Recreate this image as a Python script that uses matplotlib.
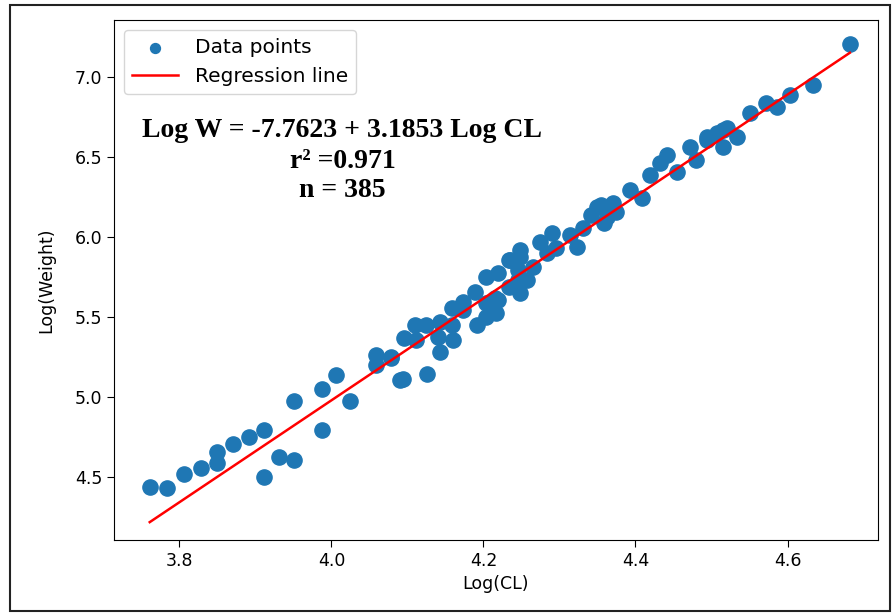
import numpy as np
import matplotlib
matplotlib.use("Agg")
import matplotlib.pyplot as plt
from matplotlib.patches import Rectangle

# values (log carapace length vs log weight)
log_cl = [3.761, 3.784, 3.806, 3.828, 3.849, 3.849, 3.871, 3.892, 3.911, 3.911,
          3.931, 3.951, 3.951, 3.987, 3.987, 4.006, 4.024, 4.058, 4.058, 4.078,
          4.079, 4.090, 4.094, 4.095, 4.110, 4.111, 4.125, 4.126, 4.140, 4.143,
          4.143, 4.158, 4.158, 4.160, 4.173, 4.173, 4.189, 4.191, 4.204, 4.204,
          4.204, 4.215, 4.217, 4.219, 4.219, 4.233, 4.233, 4.235, 4.244, 4.246,
          4.246, 4.248, 4.248, 4.248, 4.257, 4.265, 4.274, 4.283, 4.290, 4.296,
          4.314, 4.323, 4.331, 4.342, 4.349, 4.355, 4.358, 4.362, 4.371, 4.375,
          4.393, 4.408, 4.419, 4.432, 4.441, 4.454, 4.472, 4.480, 4.494, 4.494,
          4.507, 4.515, 4.515, 4.520, 4.533, 4.551, 4.572, 4.586, 4.603, 4.634,
          4.682]
log_w = [4.439, 4.429, 4.519, 4.558, 4.654, 4.590, 4.704, 4.748, 4.794, 4.502,
         4.625, 4.606, 4.975, 5.048, 4.794, 5.136, 4.975, 5.262, 5.200, 5.248,
         5.242, 5.106, 5.110, 5.367, 5.450, 5.356, 5.450, 5.144, 5.373, 5.470,
         5.283, 5.450, 5.554, 5.356, 5.544, 5.596, 5.658, 5.450, 5.752, 5.586,
         5.502, 5.617, 5.523, 5.773, 5.606, 5.856, 5.689, 5.856, 5.689, 5.731,
         5.794, 5.877, 5.648, 5.919, 5.731, 5.814, 5.971, 5.898, 6.023, 5.929,
         6.013, 5.940, 6.054, 6.138, 6.189, 6.200, 6.086, 6.127, 6.211, 6.158,
         6.294, 6.242, 6.388, 6.461, 6.513, 6.408, 6.564, 6.481, 6.627, 6.606,
         6.648, 6.669, 6.564, 6.679, 6.627, 6.773, 6.836, 6.814, 6.888, 6.950,
         7.206]

intercept = -7.7623
slope = 3.1853
eq_lines = ["Log W = -7.7623 + 3.1853 Log CL", "r\u00b2 =0.971", "n = 385"]

fig = plt.figure(figsize=(8.94, 6.14), dpi=100)
ax = fig.add_axes([114 / 894, 74 / 614, 764 / 894, 520 / 614])

# outer frame around the whole picture
fig.patches.append(Rectangle((10 / 894, 3 / 614), 880 / 894, 606 / 614,
                             transform=fig.transFigure, fill=False,
                             edgecolor="#222222", linewidth=1.5))

x = np.array(log_cl)
ax.scatter(x, log_w, s=120, color="#1f77b4", label="Data points", zorder=2)
xs = np.array([x.min(), x.max()])
ax.plot(xs, intercept + slope * xs, color="red", linewidth=1.8,
        label="Regression line", zorder=3)

ax.set_xlim(3.714, 4.719)
ax.set_ylim(4.106, 7.356)
ax.set_xticks([3.8, 4.0, 4.2, 4.4, 4.6])
ax.set_yticks([4.5, 5.0, 5.5, 6.0, 6.5, 7.0])
ax.tick_params(labelsize=12.5, length=5)
ax.set_xlabel("Log(CL)", fontsize=12.5)
ax.set_ylabel("Log(Weight)", fontsize=12.5, labelpad=14)

ax.legend(loc="upper left", fontsize=14.5, markerscale=0.65,
          borderaxespad=0.5, handlelength=2.3)

y_text = [0.787, 0.727, 0.672]
for txt, yy in zip(eq_lines, y_text):
    ax.text(0.299, yy, txt, transform=ax.transAxes, ha="center", va="center",
            family="Liberation Serif", fontweight="bold", fontsize=20)

fig.savefig("out.png", dpi=100)
